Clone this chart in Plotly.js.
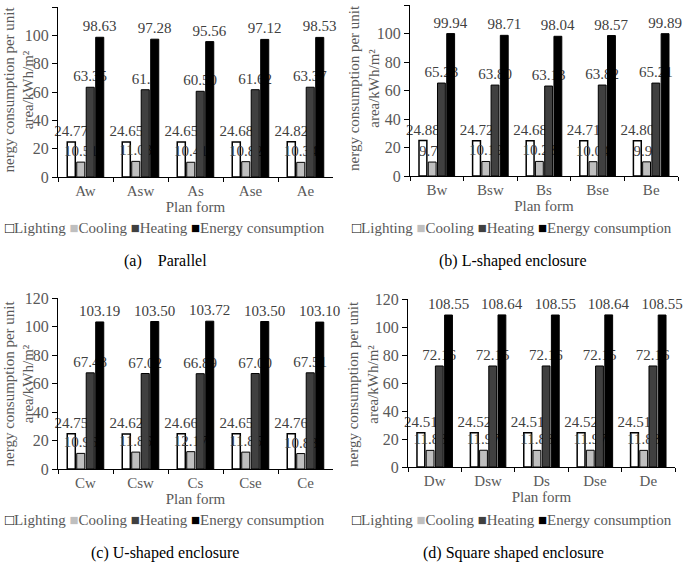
<!DOCTYPE html>
<html>
<head>
<meta charset="utf-8">
<script src="https://cdn.plot.ly/plotly-3.0.1.min.js"></script>
<style>html,body{margin:0;padding:0;background:#fff;}#chart{width:685px;height:563px;}</style>
</head>
<body>
<div id="chart"></div>
<script>
// ---------- data ----------
const seriesNames = ['Lighting', 'Cooling', 'Heating', 'Energy consumption'];

const catsA = ['Aw', 'Asw', 'As', 'Ase', 'Ae'];
const lightingA = [24.77, 24.65, 24.65, 24.68, 24.82];
const coolingA  = [10.51, 11.03, 10.41, 10.82, 10.34];
const heatingA  = [63.35, 61.60, 60.50, 61.62, 63.37];
const heatingALabels = ['63.35', '61.6', '60.50', '61.62', '63.37'];
const energyA   = [98.63, 97.28, 95.56, 97.12, 98.53];

const catsB = ['Bw', 'Bsw', 'Bs', 'Bse', 'Be'];
const lightingB = [24.88, 24.72, 24.68, 24.71, 24.80];
const coolingB  = [9.78, 10.19, 10.23, 10.04, 9.93];
const heatingB  = [65.23, 63.80, 63.13, 63.82, 65.21];
const energyB   = [99.94, 98.71, 98.04, 98.57, 99.89];

const catsC = ['Cw', 'Csw', 'Cs', 'Cse', 'Ce'];
const lightingC = [24.75, 24.62, 24.66, 24.65, 24.76];
const coolingC  = [10.96, 11.86, 12.17, 11.85, 10.83];
const heatingC  = [67.48, 67.02, 66.89, 67.00, 67.51];
const energyC   = [103.19, 103.50, 103.72, 103.50, 103.10];

const catsD = ['Dw', 'Dsw', 'Ds', 'Dse', 'De'];
const lightingD = [24.51, 24.52, 24.51, 24.52, 24.51];
const coolingD  = [11.88, 11.97, 11.88, 11.97, 11.88];
const heatingD  = [72.16, 72.15, 72.16, 72.15, 72.16];
const energyD   = [108.55, 108.64, 108.55, 108.64, 108.55];

const captions = ['(a)\u00a0\u00a0\u00a0\u00a0Parallel', '(b) L-shaped enclosure', '(c) U-shaped enclosure', '(d) Square shaped enclosure'];
const yTitle = 'nergy consumption per unit<br>area/kWh/m\u00b2';
const xTitle = 'Plan form';

// ---------- styling ----------
const FONT = 'Liberation Serif';
const fills = ['#ffffff', '#bfbfbf', '#404040', '#000000'];
const GRAY = '#595959';
const W = 685, H = 563;

const panels = [
  {cats: catsA, series: [lightingA, coolingA, heatingA, energyA], labels: [null, null, heatingALabels, null],
   px: [58, 333], py: [177, 7], ytx: 18.5, yty: 90, legx: 165, legy: 228, capx: 165, capy: 261},
  {cats: catsB, series: [lightingB, coolingB, heatingB, energyB], labels: [null, null, null, null],
   px: [410, 678], py: [176, 5], ytx: 364, yty: 88, legx: 512, legy: 228, capx: 513, capy: 261},
  {cats: catsC, series: [lightingC, coolingC, heatingC, energyC], labels: [null, null, null, null],
   px: [58, 333], py: [469, 298], ytx: 18.5, yty: 384, legx: 165, legy: 520, capx: 165, capy: 553},
  {cats: catsD, series: [lightingD, coolingD, heatingD, energyD], labels: [null, null, null, null],
   px: [408, 675], py: [467, 299], ytx: 363, yty: 384, legx: 512, legy: 520, capx: 513, capy: 553}
];

const fmt = v => v.toFixed(2);
const traces = [];
const layout = {
  width: W, height: H,
  margin: {l: 0, r: 0, t: 0, b: 0},
  paper_bgcolor: '#ffffff', plot_bgcolor: '#ffffff',
  showlegend: false,
  barmode: 'group', bargap: 0.31, bargroupgap: 0.15,
  font: {family: FONT, color: GRAY, size: 14},
  annotations: []
};

panels.forEach((p, i) => {
  const n = i === 0 ? '' : String(i + 1);
  const xa = 'x' + n, ya = 'y' + n;
  p.series.forEach((vals, s) => {
    traces.push({
      type: 'bar', name: seriesNames[s], x: p.cats, y: vals,
      xaxis: xa, yaxis: ya,
      marker: {color: fills[s], line: {color: '#000000', width: s === 0 ? 1.5 : 1}},
      text: p.labels[s] ? p.labels[s] : vals.map(fmt),
      textposition: 'outside', cliponaxis: false, constraintext: 'none',
      textfont: {family: FONT, size: 15, color: '#404040'},
      hoverinfo: 'x+y+name'
    });
  });
  layout['xaxis' + n] = {
    domain: [p.px[0] / W, p.px[1] / W], anchor: ya, type: 'category',
    showline: true, linecolor: '#000', linewidth: 1,
    ticks: 'outside', ticklen: 4, tickcolor: '#000', tickson: 'boundaries',
    tickfont: {family: FONT, size: 15, color: GRAY},
    showgrid: false, zeroline: false, fixedrange: true,
    title: {text: xTitle, font: {family: FONT, size: 15, color: GRAY}, standoff: 2}
  };
  layout['yaxis' + n] = {
    domain: [1 - p.py[0] / H, 1 - p.py[1] / H], anchor: xa,
    range: [0, 120], dtick: 20, tick0: 0,
    showline: true, linecolor: '#000', linewidth: 1,
    ticks: 'outside', ticklen: 5, tickcolor: '#000',
    tickfont: {family: FONT, size: 16, color: GRAY},
    showgrid: false, zeroline: false, fixedrange: true
  };
  // y-axis title
  layout.annotations.push({
    xref: 'paper', yref: 'paper', x: p.ytx / W, y: 1 - p.yty / H,
    xanchor: 'center', yanchor: 'middle', textangle: -90, showarrow: false,
    text: yTitle, font: {family: FONT, size: 15, color: GRAY}
  });
  // legend
  const legText = '<span style="color:#000">\u25A1</span>' + seriesNames[0] + ' ' +
    '<span style="color:#bfbfbf">\u25A0</span>' + seriesNames[1] + ' ' +
    '<span style="color:#404040">\u25A0</span>' + seriesNames[2] + ' ' +
    '<span style="color:#000">\u25A0</span>' + seriesNames[3];
  layout.annotations.push({
    xref: 'paper', yref: 'paper', x: p.legx / W, y: 1 - p.legy / H,
    xanchor: 'center', yanchor: 'middle', showarrow: false,
    text: legText, font: {family: FONT, size: 15, color: GRAY}
  });
  // caption
  layout.annotations.push({
    xref: 'paper', yref: 'paper', x: p.capx / W, y: 1 - p.capy / H,
    xanchor: 'center', yanchor: 'middle', showarrow: false,
    text: captions[i], font: {family: FONT, size: 16, color: '#000'}
  });
});

Plotly.newPlot('chart', traces, layout, {displayModeBar: false, staticPlot: true});
</script>
</body>
</html>
